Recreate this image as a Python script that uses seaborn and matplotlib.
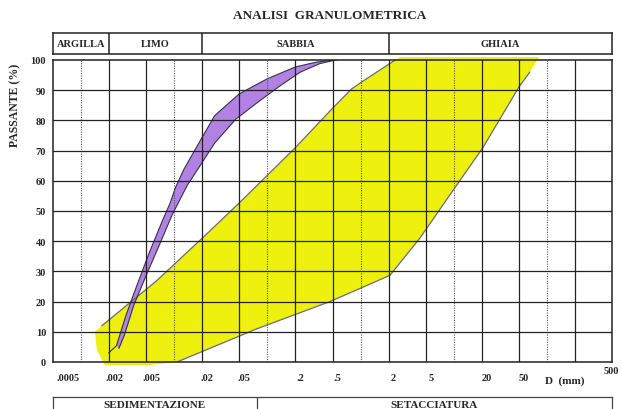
import matplotlib
matplotlib.use('Agg')
import matplotlib.pyplot as plt
import matplotlib.transforms as mtransforms
import seaborn as sns
import numpy as np

# grain size (mm) and percent passing
# purple band (sample curve), upper/left edge then lower/right edge
purple_up_d = [0.0024, 0.00303, 0.00398, 0.00546, 0.0075, 0.00906, 0.0103, 0.0127, 0.0177,
               0.0272, 0.05, 0.1, 0.2, 0.337, 0.6]
purple_up_p = [5.4, 15.4, 25.4, 36.6, 46.9, 52.7, 57.7, 63.8, 71.6, 81.6, 88.8, 93.8, 97.7, 99.3, 100.3]
purple_lo_d = [0.00255, 0.00291, 0.00368, 0.00502, 0.00694, 0.00953, 0.0138, 0.0185,
               0.0272, 0.0458, 0.0835, 0.139, 0.226, 0.365, 0.6]
purple_lo_p = [4.5, 8.8, 18.8, 28.8, 38.8, 48.8, 58.5, 64.5, 72.5, 80.4, 86.6, 91.6, 96, 98.8, 100.3]

# yellow envelope (fuso granulometrico)
yellow_up_d = [0.00141, 0.00167, 0.00653, 0.0225, 0.05, 0.2, 0.5, 0.8, 1.06, 2.64, 83]
yellow_up_p = [10, 12, 27, 42.5, 52.7, 71, 84, 90.4, 93, 101, 101]
yellow_lo_d = [83, 65.6, 50, 20.6, 11.6, 4.33, 2.07, 0.469, 0.0773, 0.0107, 0.0055, 0.0018, 0.00148]
yellow_lo_p = [101, 96, 91, 71, 60, 41, 28.7, 20, 11, 0, -1, -1, 4]

# axis ticks
x_ticks = [0.0005, 0.002, 0.005, 0.02, 0.05, 0.2, 0.5, 2, 5, 20, 50, 500]
x_labels = ['.0005', '.002', '.005', '.02', '.05', '.2', '.5', '2', '5', '20', '50', '500']
solid_x = [0.002, 0.005, 0.02, 0.05, 0.2, 0.5, 2, 5, 20, 50, 200]
dotted_x = [0.001, 0.01, 0.1, 1, 10, 100]
y_ticks = list(range(0, 101, 10))

# header classes and method boxes
class_names = ['ARGILLA', 'LIMO', 'SABBIA', 'GHIAIA']
class_edges = [0.0005, 0.002, 0.02, 2, 500]
method_names = ['SEDIMENTAZIONE', 'SETACCIATURA']
method_edges = [0.0005, 0.077, 500]

sns.set_style('white')
plt.rcParams['font.family'] = ['Liberation Serif', 'DejaVu Serif']
plt.rcParams['font.weight'] = 'bold'

fig = plt.figure(figsize=(6.21, 4.10), dpi=100)
ax = fig.add_axes([53 / 621, 47 / 410, 559 / 621, 302 / 410])

# yellow envelope
env_d = yellow_up_d + yellow_lo_d
env_p = yellow_up_p + yellow_lo_p
ax.fill(env_d, env_p, color='#eef000', alpha=0.95, lw=0, zorder=1, clip_on=False)
# purple band
band_d = purple_up_d + purple_lo_d[::-1]
band_p = purple_up_p + purple_lo_p[::-1]
ax.fill(band_d, band_p, color='#b182e3', lw=0, zorder=2)

# pencil outlines
sns.lineplot(x=yellow_up_d[1:10], y=yellow_up_p[1:10], sort=False, estimator=None,
             color='#6a6a7a', lw=0.9, ax=ax, zorder=3)
sns.lineplot(x=yellow_lo_d[1:10], y=yellow_lo_p[1:10], sort=False, estimator=None,
             color='#6a6a7a', lw=0.9, ax=ax, zorder=3)
sns.lineplot(x=[0.00198] + purple_up_d, y=[3] + purple_up_p, sort=False, estimator=None,
             color='#333344', lw=0.8, ax=ax, zorder=3)
sns.lineplot(x=purple_lo_d, y=purple_lo_p, sort=False, estimator=None,
             color='#333344', lw=0.8, ax=ax, zorder=3)

ax.set_xscale('log')
ax.set_xlim(0.0005, 500)
ax.set_ylim(0, 100)

for xv in solid_x:
    ax.axvline(xv, color='#222222', lw=0.9, zorder=4)
for xv in dotted_x:
    ax.axvline(xv, color='#555555', lw=0.8, ls=(0, (1, 1.2)), zorder=4)
for yv in y_ticks[1:-1]:
    ax.axhline(yv, color='#222222', lw=0.9, zorder=4)

for s in ax.spines.values():
    s.set_color('#222222')
    s.set_linewidth(1.1)
    s.set_zorder(5)

ax.set_yticks(y_ticks)
ax.set_yticklabels([str(v) for v in y_ticks], fontsize=7.5, fontweight='bold')
ax.tick_params(axis='y', length=0, pad=5)
ax.set_xticks(x_ticks)
ax.set_xticklabels(x_labels, fontsize=7.5, fontweight='bold')
ax.xaxis.set_minor_locator(matplotlib.ticker.NullLocator())
ax.tick_params(axis='x', length=0, pad=8)
for lab, val in zip(ax.get_xticklabels(), x_ticks):
    dx, dy = 5, 0
    if val == 0.0005:
        dx = 15
    if val == 500:
        dx, dy = -1, 7
    lab.set_transform(lab.get_transform() + mtransforms.ScaledTranslation(dx / 100, dy / 100, fig.dpi_scale_trans))

ax.set_xlabel('')
ax.set_ylabel('')
fig.text(15 / 621, 1 - 105 / 410, 'PASSANTE (%)', rotation=90, ha='center', va='center',
         fontsize=8.5, fontweight='bold')
fig.text(565 / 621, 1 - 381 / 410, 'D  (mm)', ha='center', va='center', fontsize=8, fontweight='bold')
fig.text(330 / 621, 1 - 16 / 410, 'ANALISI  GRANULOMETRICA', ha='center', va='center',
         fontsize=9.5, fontweight='bold')

# header with soil classes
hax = fig.add_axes([53 / 621, 1 - 55 / 410, 559 / 621, 21 / 410])
hax.set_xscale('log')
hax.set_xlim(0.0005, 500)
hax.set_ylim(0, 1)
hax.set_xticks([])
hax.set_yticks([])
hax.xaxis.set_minor_locator(matplotlib.ticker.NullLocator())
for s in hax.spines.values():
    s.set_color('#222222')
    s.set_linewidth(1.1)
for i, name in enumerate(class_names):
    lo, hi = class_edges[i], class_edges[i + 1]
    if i > 0:
        hax.axvline(lo, color='#222222', lw=1.1)
    hax.text(np.sqrt(lo * hi), 0.5, name, ha='center', va='center', fontsize=7.5, fontweight='bold')

# bottom box with test methods
bax = fig.add_axes([53 / 621, -8 / 410, 559 / 621, 20 / 410])
bax.set_xscale('log')
bax.set_xlim(0.0005, 500)
bax.set_ylim(0, 1)
bax.set_xticks([])
bax.set_yticks([])
bax.xaxis.set_minor_locator(matplotlib.ticker.NullLocator())
for s in bax.spines.values():
    s.set_color('#444444')
    s.set_linewidth(0.9)
bax.axvline(method_edges[1], color='#444444', lw=0.9)
for i, name in enumerate(method_names):
    lo, hi = method_edges[i], method_edges[i + 1]
    bax.text(np.sqrt(lo * hi), 0.62, name, ha='center', va='center', fontsize=8, fontweight='bold')

fig.savefig('out.png', dpi=100)
